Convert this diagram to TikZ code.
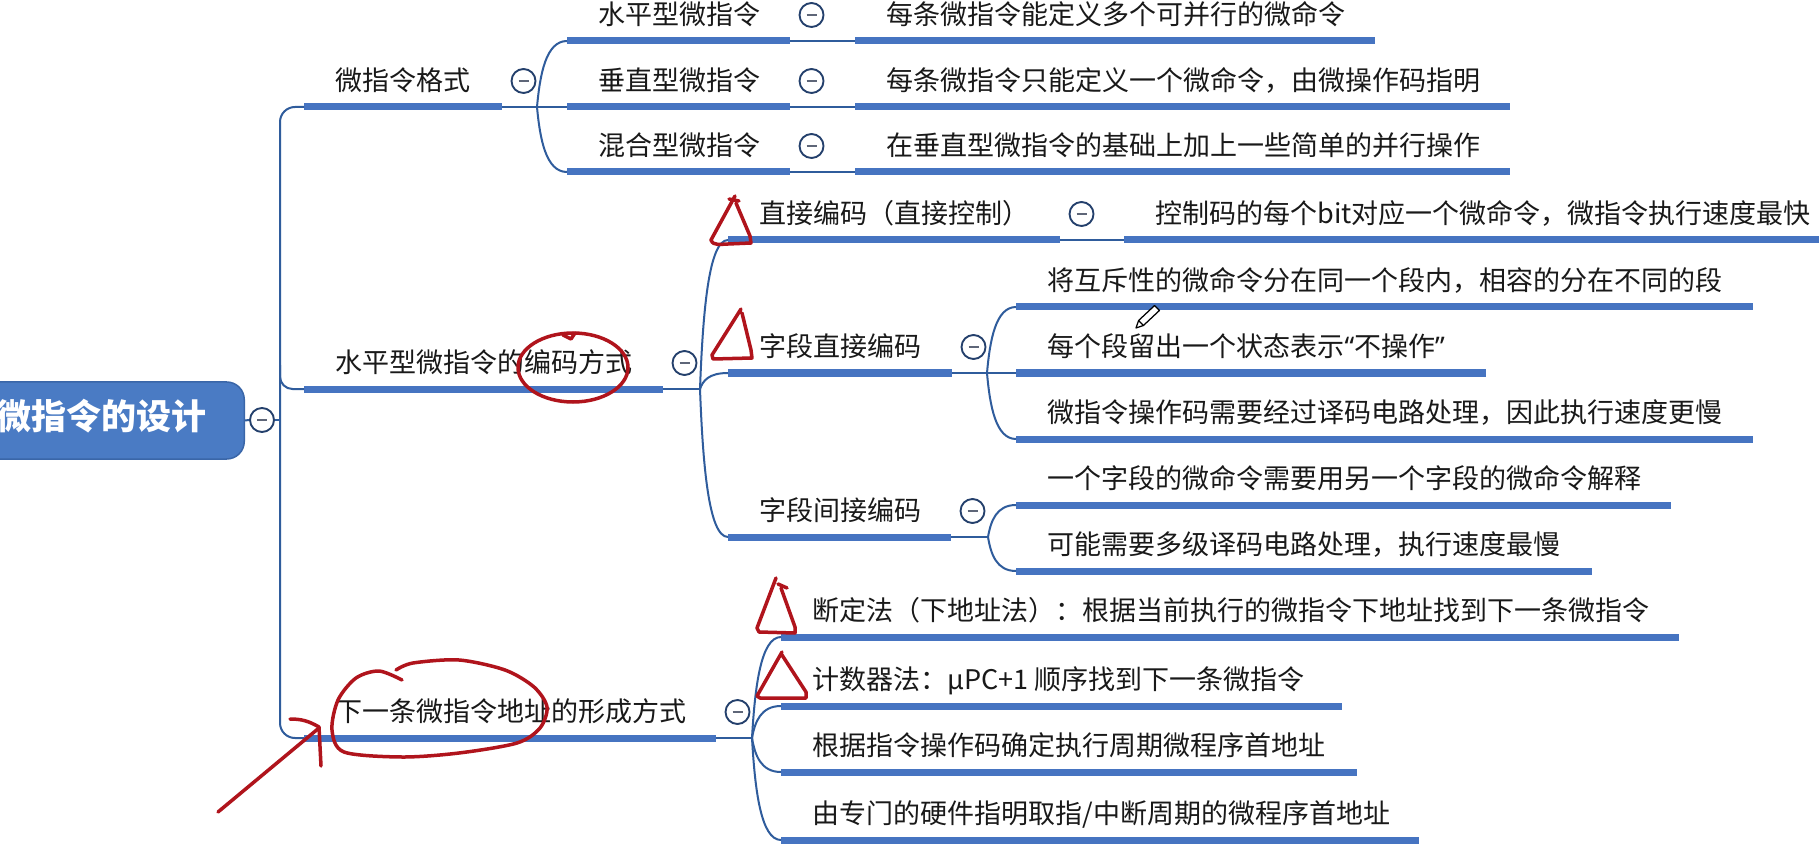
\documentclass[tikz,border=0pt]{standalone}
\usepackage{fontspec}
\setmainfont{Noto Sans CJK SC}
\newfontfamily\latinfont{Noto Sans}
\usetikzlibrary{calc}
\definecolor{barblue}{HTML}{4674C1}
\definecolor{lineblue}{HTML}{2F5C9C}
\definecolor{rootblue}{HTML}{4A7BC4}
\definecolor{rootedge}{HTML}{3A66A8}
\definecolor{btnedge}{HTML}{24406C}
\definecolor{btnminus}{HTML}{5E6678}
\definecolor{redmark}{HTML}{B0141C}
\tikzset{
 bar/.style={line width=2.8pt, barblue},
 conn/.style={line width=0.8pt, lineblue},
 txt/.style={anchor=west, inner sep=0pt, font=\fontsize{10.8pt}{13pt}\selectfont, text=black!90, text height=0.85em, text depth=0.12em},
 btn/.style={circle, draw=btnedge, line width=0.75pt, fill=white, minimum size=9.6pt, inner sep=0pt,
   path picture={\draw[btnminus, line width=1.1pt] ([xshift=-2pt]path picture bounding box.center) -- ([xshift=2pt]path picture bounding box.center);}},
 rootbox/.style={fill=rootblue, draw=rootedge, line width=0.6pt, rounded corners=7pt, anchor=east, minimum height=30.8pt,
   inner xsep=15.2pt, text=white, font=\fontsize{14pt}{16pt}\selectfont\bfseries, text height=0.85em, text depth=0.12em},
 redpen/.style={redmark, line width=1.4pt, line cap=round, line join=round},
}
\newcommand\mmtopic[5]{%
 \coordinate (#1s) at (#2,#4);
 \coordinate (#1e) at (#3,#4);
 \draw[bar] (#1s) -- (#1e);
 \node[txt] (#1) at ({#2+31},{#4-26}) {#5};}
\newcommand\mmbtn[1]{\node[btn] (#1k) at ($(#1e)+(21.5,-26)$) {};}
\newcommand\mmcurve[2]{\draw[conn] let \p1=(#1), \p2=(#2) in (\p1) .. controls ({\x1+0.1*(\x2-\x1)},{\y1+0.5*(\y2-\y1)}) and ({\x1+0.3*(\x2-\x1)},\y2) .. (\p2);}
\begin{document}
\begin{tikzpicture}[x=0.4pt, y=-0.4pt]
\clip (0,0) rectangle (1819,845);
\fill[white] (0,0) rectangle (1819,845);

% root
\node[rootbox] (root) at (245,420.5) {微指令的设计};
\node[btn] (rootk) at (262,420) {};
\coordinate (trm) at (280,420);
\draw[conn] (root.east) -- (rootk.west);
\draw[conn] (rootk.east) -- (trm);

% level 1
\mmtopic{b1}{304}{502}{107}{微指令格式}
\mmtopic{b2}{304}{663}{389}{水平型微指令的编码方式}
\mmtopic{b3}{304}{716}{738}{下一条微指令地址的形成方式}
\mmbtn{b1}\mmbtn{b2}\mmbtn{b3}
\coordinate (tr1) at (280,107);
\coordinate (tr3) at (280,738);
\coordinate (tr2a) at (280,365);
\coordinate (tr2) at (280,389);
\draw[conn, rounded corners=6pt] (b1s) -- (tr1) -- (tr3) -- (b3s);
\draw[conn, rounded corners=5pt] (tr2a) -- (tr2) -- (b2s);

% group 1
\coordinate (j1) at (537,107);
\mmtopic{c11}{567}{790}{41}{水平型微指令}
\mmtopic{c12}{567}{790}{107}{垂直型微指令}
\mmtopic{c13}{567}{790}{172}{混合型微指令}
\mmbtn{c11}\mmbtn{c12}\mmbtn{c13}
\draw[conn] (b1e) -- (j1) -- (c12s);
\mmcurve{j1}{c11s}
\mmcurve{j1}{c13s}
\mmtopic{l11}{855}{1375}{41}{每条微指令能定义多个可并行的微命令}
\mmtopic{l12}{855}{1510}{107}{每条微指令只能定义一个微命令，由微操作码指明}
\mmtopic{l13}{855}{1510}{172}{在垂直型微指令的基础上加上一些简单的并行操作}
\draw[conn] (c11e) -- (l11s);
\draw[conn] (c12e) -- (l12s);
\draw[conn] (c13e) -- (l13s);

% group 2
\coordinate (j2) at (700,389);
\draw[conn] (b2e) -- (j2);
\mmtopic{c21}{728}{1060}{240}{直接编码（直接控制）}
\mmtopic{c22}{728}{952}{373}{字段直接编码}
\mmtopic{c23}{728}{951}{537}{字段间接编码}
\mmbtn{c21}\mmbtn{c22}\mmbtn{c23}
\mmcurve{j2}{c21s}
\mmcurve{j2}{c22s}
\mmcurve{j2}{c23s}
\mmtopic{l21}{1124}{1840}{240}{控制码的每个bit对应一个微命令，微指令执行速度最快}
\draw[conn] (c21e) -- (l21s);
\coordinate (j22) at (987,373);
\mmtopic{l221}{1016}{1753}{307}{将互斥性的微命令分在同一个段内，相容的分在不同的段}
\mmtopic{l222}{1016}{1486}{373}{每个段留出一个状态表示{\latinfont “}不操作{\latinfont ”}}
\mmtopic{l223}{1016}{1753}{439}{微指令操作码需要经过译码电路处理，因此执行速度更慢}
\draw[conn] (c22e) -- (j22) -- (l222s);
\mmcurve{j22}{l221s}
\mmcurve{j22}{l223s}
\coordinate (j23) at (988,537);
\mmtopic{l231}{1016}{1671}{505}{一个字段的微命令需要用另一个字段的微命令解释}
\mmtopic{l232}{1016}{1592}{571}{可能需要多级译码电路处理，执行速度最慢}
\draw[conn] (c23e) -- (j23);
\mmcurve{j23}{l231s}
\mmcurve{j23}{l232s}

% group 3
\coordinate (j3) at (752,738);
\draw[conn] (b3e) -- (j3);
\mmtopic{l31}{781}{1679}{637}{断定法（下地址法）：根据当前执行的微指令下地址找到下一条微指令}
\mmtopic{l32}{781}{1342}{706}{计数器法：μPC+1 顺序找到下一条微指令}
\mmtopic{l33}{781}{1357}{772}{根据指令操作码确定执行周期微程序首地址}
\mmtopic{l34}{781}{1419}{840}{由专门的硬件指明取指/中断周期的微程序首地址}
\mmcurve{j3}{l31s}
\mmcurve{j3}{l32s}
\mmcurve{j3}{l33s}
\mmcurve{j3}{l34s}

% pen cursor
\filldraw[fill=white, draw=black, line width=0.5pt, line join=round]
  (1136,328) -- (1143.4,325.5) -- (1159.4,310.5) -- (1154.6,305.5) -- (1138.6,320.5) -- cycle;
\draw[black, line width=0.5pt] (1143.4,325.5) -- (1138.6,320.5);

% red annotations
\draw[redpen] (735,196) -- (711,240) to[out=-70,in=180] (728,244) -- (751,243) -- (750,236) -- (736,203);
\draw[redpen] (729,199) -- (739,201);
\draw[redpen] (741,309) -- (712,355) -- (713,359) -- (752,358) -- (751,350) -- (742,313);
\draw[redpen] (776,578) -- (757,628) -- (759,632) -- (795,633) -- (795,627) -- (781,588);
\draw[redpen] (778,584) -- (787,588);
\draw[redpen] (782,652) -- (757,696) -- (760,698) -- (806,698) -- (806,692) -- (782,655);
\draw[redpen] (573,367.5) ellipse [x radius=22pt, y radius=13.8pt];
\draw[redpen] (563,335) -- (571,339) -- (575,333);
\draw[redpen] plot[smooth] coordinates {(402,680) (379,671) (356,678) (338,700) (332,730) (344,752) (402,757) (459,753) (517,743) (540,728) (547,707) (534,687) (505,670) (459,660) (413,663) (396,670)};
\draw[redpen] (218,812) -- (319,728);
\draw[redpen] (290,719) to[out=0,in=150] (319,727) -- (321,766);
\end{tikzpicture}
\end{document}
